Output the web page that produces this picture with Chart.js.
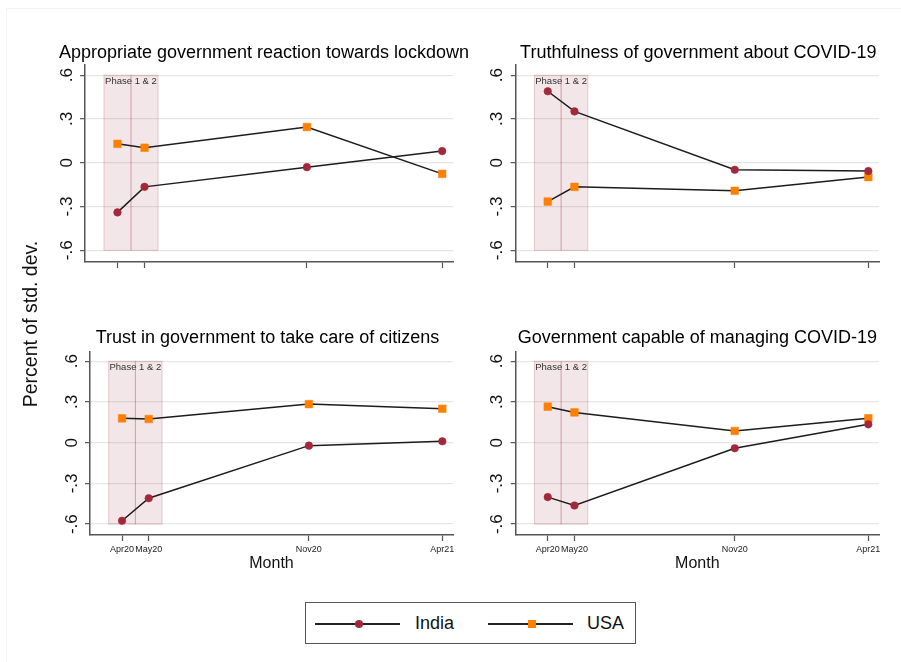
<!DOCTYPE html>
<html>
<head>
<meta charset="utf-8">
<title>Perception of government: India vs USA</title>
<script src="https://cdn.jsdelivr.net/npm/chart.js@4.4.1/dist/chart.umd.min.js"></script>
<style>
  html, body { margin: 0; padding: 0; background: #fff; }
  body { position: relative; width: 901px; height: 662px; overflow: hidden;
         font-family: "Liberation Sans", Arial, Helvetica, sans-serif; }
  canvas { position: absolute; }
  #frame { position: absolute; left: 6px; top: 8px; width: 895px; height: 654px;
           border-top: 1px solid #f2f2f2; border-left: 1px solid #f2f2f2; box-sizing: border-box; }
  #ylabel { position: absolute; left: -70px; top: 314px; width: 200px; height: 20px;
            line-height: 20px; font-size: 19.5px; text-align: center; color: #111;
            transform: rotate(-90deg); white-space: nowrap; }
  #legend { position: absolute; left: 305px; top: 602px; width: 331px; height: 42px;
            border: 1px solid #555; box-sizing: border-box; }
  .lg-line { position: absolute; height: 1.5px; background: #222; top: 20px; }
  .lg-dot { position: absolute; width: 8px; height: 8px; border-radius: 50%; top: 16.5px; }
  .lg-sq { position: absolute; width: 8px; height: 8px; top: 16.5px; }
  .lg-text { position: absolute; top: 10px; font-size: 18px; line-height: 20px; color: #111; }
</style>
</head>
<body>
<div id="frame"></div>
<canvas id="c0" width="445" height="260" style="left:40px;top:30px"></canvas>
<canvas id="c1" width="415" height="260" style="left:480px;top:30px"></canvas>
<canvas id="c2" width="445" height="270" style="left:40px;top:310px"></canvas>
<canvas id="c3" width="415" height="270" style="left:480px;top:310px"></canvas>
<div id="ylabel">Percent of std. dev.</div>
<div id="legend">
  <div class="lg-line" style="left:9px;width:85px"></div>
  <div class="lg-dot" style="left:48.5px;background:#a3283a"></div>
  <div class="lg-text" style="left:109px">India</div>
  <div class="lg-line" style="left:182px;width:85px"></div>
  <div class="lg-sq" style="left:221.5px;background:#ff8000"></div>
  <div class="lg-text" style="left:281px">USA</div>
</div>
<script>
// Survey waves and their position in months since April 2020
const months = ['Apr20', 'May20', 'Nov20', 'Apr21'];
const monthIndex = [0, 1, 7, 12];

const panelTitles = [
  'Appropriate government reaction towards lockdown',
  'Truthfulness of government about COVID-19',
  'Trust in government to take care of citizens',
  'Government capable of managing COVID-19'
];

// Standardised effects (share of a standard deviation) per wave
const indiaReaction = [-0.34, -0.165, -0.03, 0.08];
const usaReaction   = [0.13, 0.103, 0.245, -0.076];
const indiaTruth    = [0.49, 0.352, -0.048, -0.057];
const usaTruth      = [-0.266, -0.165, -0.192, -0.098];
const indiaTrust    = [-0.575, -0.409, -0.022, 0.01];
const usaTrust      = [0.179, 0.174, 0.284, 0.25];
const indiaCapable  = [-0.401, -0.463, -0.041, 0.135];
const usaCapable    = [0.265, 0.223, 0.086, 0.179];

const yTicks = [-0.6, -0.3, 0, 0.3, 0.6];
const yTickLabels = ['-.6', '-.3', '0', '.3', '.6'];

// Lockdown phases 1 and 2 (in months) and the vertical extent of the shading
const phaseBands = [[-0.5, 0.5], [0.5, 1.5]];
const phaseRange = [-0.6, 0.6];
const phaseLabel = 'Phase 1 & 2';

const FONT = '"Liberation Sans", Arial, Helvetica, sans-serif';
const INDIA_COLOR = '#a3283a';
const USA_COLOR = '#ff8000';

const panelData = [
  [indiaReaction, usaReaction],
  [indiaTruth, usaTruth],
  [indiaTrust, usaTrust],
  [indiaCapable, usaCapable]
];

const layouts = [
  { id: 'c0', pad: { top: 35, right: 32, bottom: 0, left: 0 }, yW: 45, xH: 28, xLabels: false, titleDx: -5, titleGap: 7 },
  { id: 'c1', pad: { top: 35, right: 16, bottom: 0, left: 0 }, yW: 35.7, xH: 28, xLabels: false, titleDx: 1, titleGap: 7 },
  { id: 'c2', pad: { top: 41.7, right: 32, bottom: 7, left: 0 }, yW: 50, xH: 38, xLabels: true, titleDx: -4, titleGap: 8.4 },
  { id: 'c3', pad: { top: 41.7, right: 16, bottom: 7, left: 0 }, yW: 35.7, xH: 38, xLabels: true, titleDx: 0, titleGap: 8.4 }
];

function points(values) {
  return values.map((v, i) => ({ x: monthIndex[i], y: v }));
}

// Shaded lockdown phases, rotated y tick labels and panel titles
const panelDecor = {
  id: 'panelDecor',
  beforeDatasetsDraw(chart) {
    const { ctx, scales: { x, y } } = chart;
    ctx.save();
    const yTop = y.getPixelForValue(phaseRange[1]);
    const yBot = y.getPixelForValue(phaseRange[0]);
    phaseBands.forEach(([a, b]) => {
      const x0 = x.getPixelForValue(a);
      const x1 = x.getPixelForValue(b);
      ctx.fillStyle = 'rgba(160, 50, 70, 0.12)';
      ctx.fillRect(x0, yTop, x1 - x0, yBot - yTop);
      ctx.strokeStyle = 'rgba(160, 50, 70, 0.22)';
      ctx.lineWidth = 1;
      ctx.strokeRect(x0, yTop, x1 - x0, yBot - yTop);
    });
    ctx.fillStyle = '#333';
    ctx.font = '9.5px ' + FONT;
    ctx.textAlign = 'center';
    ctx.textBaseline = 'middle';
    const mid = (phaseBands[0][0] + phaseBands[phaseBands.length - 1][1]) / 2;
    ctx.fillText(phaseLabel, x.getPixelForValue(mid), yTop + 6.5);
    ctx.restore();
  },
  afterDraw(chart, args, opts) {
    const { ctx, chartArea, scales: { y } } = chart;
    ctx.save();
    ctx.fillStyle = '#111';
    ctx.font = '17px ' + FONT;
    ctx.textAlign = 'center';
    ctx.textBaseline = 'middle';
    yTicks.forEach((v, i) => {
      ctx.save();
      ctx.translate(chartArea.left - 18, y.getPixelForValue(v));
      ctx.rotate(-Math.PI / 2);
      ctx.fillText(yTickLabels[i], 0, 0);
      ctx.restore();
    });
    ctx.font = '18px ' + FONT;
    ctx.textBaseline = 'alphabetic';
    ctx.fillStyle = '#000';
    ctx.fillText(opts.text, (chartArea.left + chartArea.right) / 2 + opts.dx, chartArea.top - opts.gap);
    ctx.restore();
  }
};

layouts.forEach((L, p) => {
  const [india, usa] = panelData[p];
  new Chart(document.getElementById(L.id), {
    type: 'line',
    data: {
      datasets: [
        { label: 'India', data: points(india), borderColor: '#1c1c1c', borderWidth: 1.5,
          pointStyle: 'circle', pointRadius: 3.8, pointBorderWidth: 0.5,
          pointBackgroundColor: INDIA_COLOR, pointBorderColor: INDIA_COLOR, tension: 0 },
        { label: 'USA', data: points(usa), borderColor: '#1c1c1c', borderWidth: 1.5,
          pointStyle: 'rect', pointRadius: 5.4, pointBorderWidth: 0.5,
          pointBackgroundColor: USA_COLOR, pointBorderColor: USA_COLOR, tension: 0 }
      ]
    },
    options: {
      responsive: false,
      animation: false,
      devicePixelRatio: 1,
      layout: { padding: L.pad },
      plugins: {
        legend: { display: false },
        tooltip: { enabled: false },
        title: { display: false },
        panelDecor: { text: panelTitles[p], dx: L.titleDx, gap: L.titleGap }
      },
      scales: {
        x: {
          type: 'linear', min: -1.2, max: 12.4,
          afterBuildTicks: s => { s.ticks = monthIndex.map(v => ({ value: v })); },
          afterFit: s => { s.height = L.xH; },
          ticks: { display: L.xLabels, callback: (v, i) => months[i], autoSkip: false,
                   maxRotation: 0, minRotation: 0, padding: 3, color: '#222',
                   font: { size: 9, family: FONT } },
          grid: { drawOnChartArea: false, drawTicks: true, tickLength: 6,
                  tickColor: '#555', tickWidth: 1.2 },
          border: { color: '#555', width: 1.5 },
          title: { display: L.xLabels, text: 'Month', color: '#111', padding: 0,
                   font: { size: 16, family: FONT } }
        },
        y: {
          min: -0.68, max: 0.67,
          afterBuildTicks: s => { s.ticks = yTicks.map(v => ({ value: v })); },
          afterFit: s => { s.width = L.yW; },
          ticks: { display: false },
          grid: { color: '#e6e6e6', lineWidth: 1.3, drawTicks: true, tickLength: 5,
                  tickColor: '#555', tickWidth: 1.2 },
          border: { color: '#555', width: 1.5 }
        }
      }
    },
    plugins: [panelDecor]
  });
});
</script>
</body>
</html>
